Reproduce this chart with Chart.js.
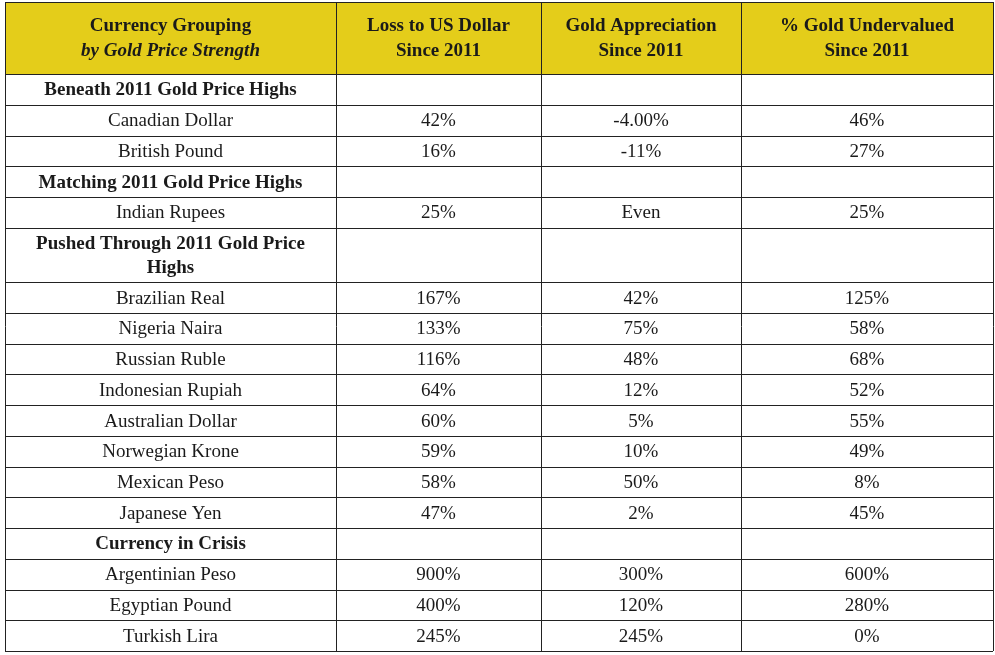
<!DOCTYPE html>
<html><head><meta charset="utf-8">
<script src="https://cdn.jsdelivr.net/npm/chart.js@4/dist/chart.umd.min.js"></script>
<style>html,body{margin:0;padding:0;background:#fff}#wrap{width:995px;height:655px}</style>
</head><body><div id="wrap"><canvas id="tbl"></canvas></div>
<script>
const headers = [
  ["Currency Grouping", "by Gold Price Strength"],
  ["Loss to US Dollar", "Since 2011"],
  ["Gold Appreciation", "Since 2011"],
  ["% Gold Undervalued", "Since 2011"]
];
// section rows have only a label; data rows have four cells
const rows = [
  ["Beneath 2011 Gold Price Highs"],
  ["Canadian Dollar", "42%", "-4.00%", "46%"],
  ["British Pound", "16%", "-11%", "27%"],
  ["Matching 2011 Gold Price Highs"],
  ["Indian Rupees", "25%", "Even", "25%"],
  ["Pushed Through 2011 Gold Price|Highs"],
  ["Brazilian Real", "167%", "42%", "125%"],
  ["Nigeria Naira", "133%", "75%", "58%"],
  ["Russian Ruble", "116%", "48%", "68%"],
  ["Indonesian Rupiah", "64%", "12%", "52%"],
  ["Australian Dollar", "60%", "5%", "55%"],
  ["Norwegian Krone", "59%", "10%", "49%"],
  ["Mexican Peso", "58%", "50%", "8%"],
  ["Japanese Yen", "47%", "2%", "45%"],
  ["Currency in Crisis"],
  ["Argentinian Peso", "900%", "300%", "600%"],
  ["Egyptian Pound", "400%", "120%", "280%"],
  ["Turkish Lira", "245%", "245%", "0%"]
];
const colEdges = [0, 331, 536, 736, 988];
const headerUnits = 2.35;
const rowUnits = rows.map(r => r[0].includes("|") ? 1.77 : 1);

const tablePlugin = {
  id: "tablePlugin",
  afterDraw(chart) {
    const ctx = chart.ctx, xs = chart.scales.x, ys = chart.scales.y;
    const X = v => xs.getPixelForValue(v), Y = v => ys.getPixelForValue(v);
    const L = X(colEdges[0]), R = X(colEdges[colEdges.length - 1]);
    ctx.save();
    ctx.fillStyle = "#e4cd1a";
    ctx.fillRect(L, Y(0), R - L, Y(headerUnits) - Y(0));
    ctx.fillStyle = "#1a1a1a";
    ctx.textAlign = "center";
    ctx.textBaseline = "middle";
    headers.forEach((h, i) => {
      const cx = (X(colEdges[i]) + X(colEdges[i + 1])) / 2;
      const mid = (Y(0) + Y(headerUnits)) / 2;
      ctx.font = "bold 19px 'Liberation Serif', serif";
      ctx.fillText(h[0], cx, mid - 12);
      ctx.font = (i === 0 ? "italic bold" : "bold") + " 19px 'Liberation Serif', serif";
      ctx.fillText(h[1], cx, mid + 13);
    });
    let u = headerUnits;
    const lines = [u];
    rows.forEach((r, ri) => {
      const top = Y(u), bot = Y(u + rowUnits[ri]), mid = (top + bot) / 2;
      if (r.length === 1) {
        ctx.font = "bold 19px 'Liberation Serif', serif";
        const parts = r[0].split("|");
        const cx = (X(colEdges[0]) + X(colEdges[1])) / 2;
        parts.forEach((p, k) => ctx.fillText(p, cx, mid + (k - (parts.length - 1) / 2) * 24 + 1));
      } else {
        ctx.font = "19px 'Liberation Serif', serif";
        r.forEach((t, ci) => ctx.fillText(t, (X(colEdges[ci]) + X(colEdges[ci + 1])) / 2, mid + 1));
      }
      u += rowUnits[ri];
      lines.push(u);
    });
    ctx.strokeStyle = "#222";
    ctx.lineWidth = 1;
    ctx.beginPath();
    [0].concat(lines).forEach(v => { const y = Math.round(Y(v)) + 0.5; ctx.moveTo(L, y); ctx.lineTo(R, y); });
    colEdges.forEach(v => { const x = Math.round(X(v)) + 0.5; ctx.moveTo(x, Y(0)); ctx.lineTo(x, Y(u)); });
    ctx.stroke();
    ctx.restore();
  }
};

const totalUnits = headerUnits + rowUnits.reduce((a, b) => a + b, 0);
new Chart(document.getElementById("tbl"), {
  type: "scatter",
  data: { datasets: [{ data: [] }] },
  options: {
    responsive: true, maintainAspectRatio: false, animation: false,
    layout: { padding: { left: 5, right: 2, top: 2, bottom: 4 } },
    plugins: { legend: { display: false }, tooltip: { enabled: false } },
    scales: {
      x: { display: false, min: 0, max: colEdges[colEdges.length - 1] },
      y: { display: false, reverse: true, min: 0, max: totalUnits }
    }
  },
  plugins: [tablePlugin]
});
</script></body></html>
